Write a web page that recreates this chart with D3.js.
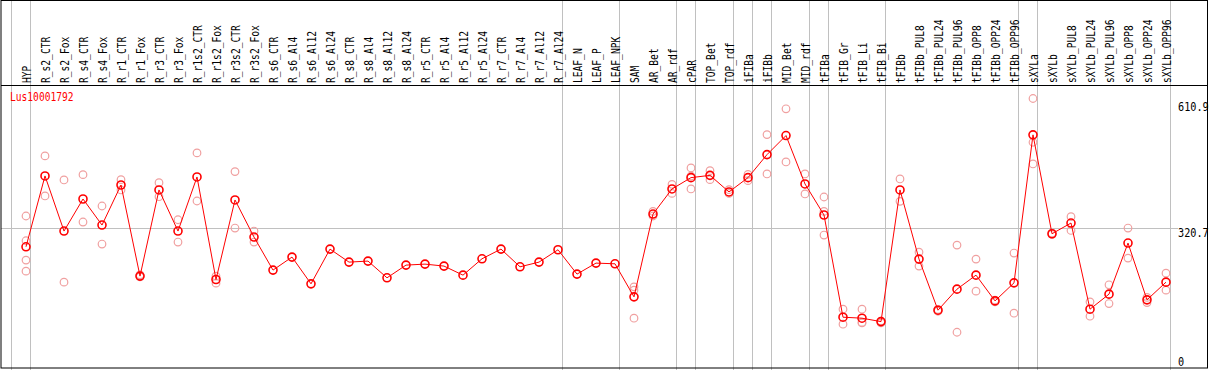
<!DOCTYPE html>
<html>
<head>
<meta charset="utf-8">
<script src="https://cdn.jsdelivr.net/npm/d3@7"></script>
<style>
  body { margin: 0; background: #fff; }
  svg { display: block; }
  text { font-family: "DejaVu Sans Mono", "Liberation Mono", monospace; }
</style>
</head>
<body>
<svg id="chart"></svg>
<script>
// gene expression profile, one column per sample
const geneId = "Lus10001792";

const samples = ["HYP", "R_s2_CTR", "R_s2_Fox", "R_s4_CTR", "R_s4_Fox", "R_r1_CTR", "R_r1_Fox",
  "R_r3_CTR", "R_r3_Fox", "R_r1s2_CTR", "R_r1s2_Fox", "R_r3s2_CTR", "R_r3s2_Fox",
  "R_s6_CTR", "R_s6_Al4", "R_s6_Al12", "R_s6_Al24", "R_s8_CTR", "R_s8_Al4", "R_s8_Al12", "R_s8_Al24",
  "R_r5_CTR", "R_r5_Al4", "R_r5_Al12", "R_r5_Al24", "R_r7_CTR", "R_r7_Al4", "R_r7_Al12", "R_r7_Al24",
  "LEAF_N", "LEAF_P", "LEAF_NPK", "SAM", "AR_Bet", "AR_rdf", "cPAR", "TOP_Bet", "TOP_rdf",
  "iFIBa", "iFIBb", "MID_Bet", "MID_rdf", "tFIBa", "tFIB_Gr", "tFIB_Li", "tFIB_Bi", "tFIBb",
  "tFIBb_PUL8", "tFIBb_PUL24", "tFIBb_PUL96", "tFIBb_OPP8", "tFIBb_OPP24", "tFIBb_OPP96",
  "sXYLa", "sXYLb", "sXYLb_PUL8", "sXYLb_PUL24", "sXYLb_PUL96", "sXYLb_OPP8", "sXYLb_OPP24", "sXYLb_OPP96"];

const means = [278.5, 437.3, 313.7, 385.6, 327.2, 417, 212.7, 405.9, 313.7, 435, 205.1, 383.4, 300.3,
  226.2, 255.4, 195.4, 273.3, 244.1, 246.4, 208.9, 237.4, 239.6, 235.2, 214.9, 251.6, 273.3, 233.6,
  244.1, 271.8, 217.2, 241.9, 240.3, 166.2, 351.9, 408.1, 433.5, 438.6, 401.4, 433.5, 485.1, 527.8,
  419.3, 349.7, 120.6, 118.4, 110.7, 405.9, 250.9, 136.3, 183.5, 214.9, 157.2, 197.6, 529.4, 307.7,
  331.7, 138.6, 172.3, 286.8, 159.5, 199.2];

const replicates = [
  [347.5, 292, 248.6, 223.9], [482.2, 392.4], [428.3, 199.2], [440.2, 334], [369.9, 284.6],
  [429, 405.9], [215.6, 211.1], [422.2, 390.8], [339.1, 289.1], [488.9, 381.1], [212.7, 197],
  [447, 320.5], [313.7, 289.1],
  [], [], [], [], [], [], [], [], [], [], [], [], [], [], [], [], [], [], [],
  [188.7, 181.2, 118.4], [357.8, 347.5], [418.4, 398.2], [455.3, 408.1, 437], [449.2, 429],
  [406.5, 398.2], [440.9, 426.7], [530, 441.8], [587.8, 468.7], [441.8, 396.9],
  [390.1, 357.8, 304.8], [138.6, 104.9], [138.6, 107.8, 109], [112, 108], [430.6, 380.3],
  [266.6, 235.2], [138, 134], [282.3, 86.9], [250.9, 179], [159, 155], [264.4, 129.6],
  [610.9, 512.8, 464.2], [309, 306], [345.9, 315.1], [155, 122.9], [193.2, 151.2],
  [320.5, 253.1], [153.4, 165], [219.4, 181.2]
];

// index of the last sample in each group (-1 = left edge)
const groupEnds = [-1, 0, 28, 31, 34, 35, 37, 38, 39, 41, 42, 45, 52, 53, 60];
const yTicks = [610.9, 320.7, 0];

const W = 1209, H = 370, headerY = 85.5, right = 1207.5;

const svg = d3.select("#chart").attr("width", W).attr("height", H);

const x = d3.scalePoint().domain(d3.range(samples.length)).range([26, 1166]);
const y = d3.scaleLinear().domain([0, 610.9]).range([371, 98.5]);

// group separators (through header too)
svg.append("g").selectAll("line")
  .data(groupEnds)
  .join("line")
  .attr("x1", i => Math.floor((i < 0 ? x(0) - 19 : x(i)) + 4.5) + 0.5)
  .attr("x2", i => Math.floor((i < 0 ? x(0) - 19 : x(i)) + 4.5) + 0.5)
  .attr("y1", 0).attr("y2", H)
  .attr("stroke", "#c0c0c0");

// mid gridline
svg.append("line")
  .attr("x1", 1).attr("x2", 1178)
  .attr("y1", Math.round(y(320.7)) + 0.5).attr("y2", Math.round(y(320.7)) + 0.5)
  .attr("stroke", "#c0c0c0");

// frame
svg.append("rect")
  .attr("x", 1).attr("y", 0.5).attr("width", right - 1).attr("height", 368 - 0.5)
  .attr("fill", "none").attr("stroke", "#000");
svg.append("line")
  .attr("x1", 1).attr("x2", right)
  .attr("y1", headerY).attr("y2", headerY)
  .attr("stroke", "#000");

// sample names, rotated
svg.append("g").selectAll("text")
  .data(samples)
  .join("text")
  .attr("transform", (d, i) => `translate(${x(i) + 4.5},83) rotate(-90) scale(0.8,1)`)
  .attr("font-size", "12px")
  .attr("fill", "#000")
  .text(d => d);

// gene name
svg.append("text")
  .attr("transform", "translate(10,101) scale(0.8,1)")
  .attr("font-size", "12px")
  .attr("fill", "#ff0000")
  .text(geneId);

// value labels on the right
svg.append("g").selectAll("text")
  .data(yTicks)
  .join("text")
  .attr("transform", d => `translate(1178,${Math.min(Math.max(y(d) + 9, 111), 366)}) scale(0.85,1)`)
  .attr("font-size", "12px")
  .attr("fill", "#000")
  .text(d => d);

// replicate points
const reps = [];
replicates.forEach((arr, i) => arr.forEach(v => reps.push({ i, v })));
svg.append("g").selectAll("circle")
  .data(reps)
  .join("circle")
  .attr("cx", d => x(d.i))
  .attr("cy", d => y(d.v))
  .attr("r", 3.8)
  .attr("fill", "none")
  .attr("stroke", "#f0a0a0")
  .attr("stroke-width", 1.2);

// mean line + points
const line = d3.line().x((d, i) => x(i)).y(d => y(d));
svg.append("path")
  .datum(means)
  .attr("d", line)
  .attr("fill", "none")
  .attr("stroke", "#ff0000")
  .attr("stroke-width", 1);

svg.append("g").selectAll("circle")
  .data(means)
  .join("circle")
  .attr("cx", (d, i) => x(i))
  .attr("cy", d => y(d))
  .attr("r", 4)
  .attr("fill", "none")
  .attr("stroke", "#ff0000")
  .attr("stroke-width", 1.6);
</script>
</body>
</html>
